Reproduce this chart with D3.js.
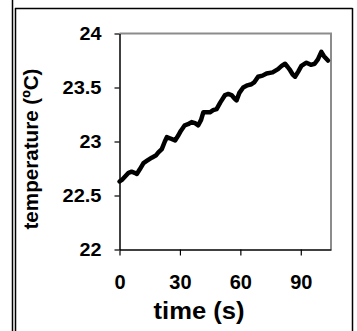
<!DOCTYPE html>
<html>
<head>
    <meta charset="utf-8">
    <script src="https://d3js.org/d3.v7.min.js"></script>
    <style>
        body { margin: 0; background: #fff; }
        text { font-family: "Liberation Sans", Arial, sans-serif; font-weight: bold; fill: #000; }
    </style>
</head>
<body>
    <script>
        // dane
        var czas = [0, 1.5, 3, 4.5, 6, 7.5, 8.6, 10, 11.9, 13.5, 16, 18, 19.3, 21, 22.5, 23.5, 25, 27.6, 29,
                    30.5, 32.4, 34, 35.8, 37.5, 39.1, 40.5, 41.6, 43, 44.9, 46.5, 48.2, 50, 52.4, 54, 55.6,
                    57, 58.1, 59.5, 61.4, 63.5, 65.5, 67, 68.8, 71, 73, 76, 78.7, 80.5, 82.2, 83.5, 84.7,
                    86, 87.2, 88.8, 90.3, 92.8, 95, 96.9, 98.5, 100.2, 101.5, 103.5];
        var temperatura = [22.63, 22.65, 22.68, 22.71, 22.72, 22.71, 22.70, 22.74, 22.80, 22.82, 22.85, 22.87,
                    22.90, 22.93, 23.00, 23.04, 23.03, 23.01, 23.05, 23.10, 23.15, 23.16, 23.18, 23.17, 23.15,
                    23.20, 23.27, 23.27, 23.27, 23.29, 23.30, 23.36, 23.43, 23.44, 23.43, 23.40, 23.38, 23.45,
                    23.50, 23.52, 23.53, 23.55, 23.60, 23.61, 23.63, 23.64, 23.67, 23.70, 23.72, 23.69, 23.66,
                    23.62, 23.60, 23.65, 23.70, 23.73, 23.71, 23.72, 23.76, 23.83, 23.79, 23.75];
        var yTicks = [22, 22.5, 23, 23.5, 24];
        var xTicks = [0, 30, 60, 90];

        var data = czas.map(function(t, i) { return {t: t, temp: temperatura[i]}; });

        var svg = d3.select("body").append("svg")
            .attr("width", 357)
            .attr("height", 331);

        // ramka dookola
        svg.append("line").attr("x1", 12.5).attr("x2", 12.5).attr("y1", 0).attr("y2", 331)
            .attr("stroke", "#000").attr("stroke-width", 1.5);
        svg.append("line").attr("x1", 15.5).attr("x2", 15.5).attr("y1", 8).attr("y2", 331)
            .attr("stroke", "#000").attr("stroke-width", 1.5);
        svg.append("line").attr("x1", 15).attr("x2", 352.5).attr("y1", 8.5).attr("y2", 8.5)
            .attr("stroke", "#000").attr("stroke-width", 1.5);
        svg.append("line").attr("x1", 352.5).attr("x2", 352.5).attr("y1", 8).attr("y2", 331)
            .attr("stroke", "#000").attr("stroke-width", 1.5);

        // skale
        var x = d3.scaleLinear().domain([0, 105]).range([119.5, 331]);
        var y = d3.scaleLinear().domain([22, 24]).range([249.5, 33.5]);

        // szara ramka wykresu (gora i prawa)
        svg.append("path")
            .attr("d", "M" + x(0) + "," + y(24) + "H" + x(105) + "V" + y(22))
            .attr("fill", "none")
            .attr("stroke", "#8c8c8c")
            .attr("stroke-width", 2);

        // os Y
        var yAxis = svg.append("g")
            .attr("transform", "translate(" + x(0) + ",0)")
            .call(d3.axisLeft(y).tickValues(yTicks).tickSize(5).tickSizeOuter(0).tickPadding(13)
                .tickFormat(d3.format("")));
        yAxis.selectAll("text").style("font-size", "18px")
            .attr("textLength", function(d) { return String(d).length > 2 ? 39 : 22; })
            .attr("lengthAdjust", "spacingAndGlyphs");

        // os X
        var xAxis = svg.append("g")
            .attr("transform", "translate(0," + y(22) + ")")
            .call(d3.axisBottom(x).tickValues(xTicks).tickSize(6).tickSizeOuter(0).tickPadding(19));
        xAxis.selectAll("text").style("font-size", "20px");

        svg.selectAll(".domain").attr("stroke", "#000").attr("stroke-width", 1.5);
        svg.selectAll(".tick line").attr("stroke", "#000").attr("stroke-width", 1.2);
        svg.selectAll(".tick text").attr("fill", "#000");

        // linia pomiarow
        var line = d3.line()
            .x(function(d) { return x(d.t); })
            .y(function(d) { return y(d.temp); });

        svg.append("path")
            .datum(data)
            .attr("fill", "none")
            .attr("stroke", "#000")
            .attr("stroke-width", 4.5)
            .attr("stroke-linejoin", "round")
            .attr("stroke-linecap", "round")
            .attr("d", line);

        // opisy osi
        svg.append("text")
            .attr("x", 199)
            .attr("y", 319)
            .attr("text-anchor", "middle")
            .attr("textLength", 91)
            .attr("lengthAdjust", "spacingAndGlyphs")
            .style("font-size", "23px")
            .text("time (s)");

        svg.append("text")
            .attr("transform", "translate(38,149) rotate(-90)")
            .attr("text-anchor", "middle")
            .attr("textLength", 161)
            .attr("lengthAdjust", "spacingAndGlyphs")
            .style("font-size", "21px")
            .text("temperature (ºC)");
    </script>
</body>
</html>
